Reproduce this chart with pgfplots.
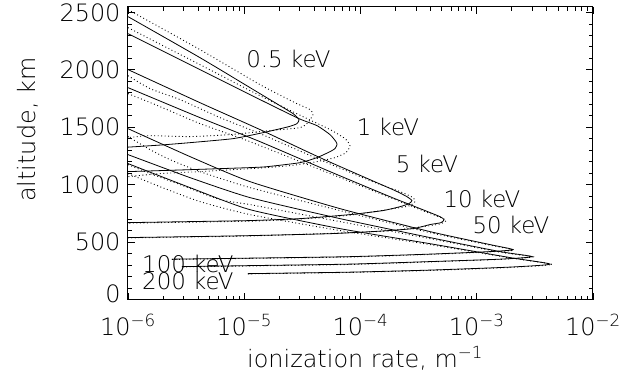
\documentclass[border=0pt]{standalone}
\usepackage{fontspec}
\setmainfont{DejaVu Sans}[UprightFont={* ExtraLight}]
\usepackage{pgfplots}
\pgfplotsset{compat=1.18}
\begin{document}
\begin{tikzpicture}
\begin{axis}[
  scale only axis, width=465bp, height=293bp,
  xmode=log, xmin=1e-6, xmax=1e-2, ymin=0, ymax=2550,
  xtick={1e-6,1e-5,1e-4,1e-3,1e-2},
  xticklabels={10\textsuperscript{−6},10\textsuperscript{−5},10\textsuperscript{−4},10\textsuperscript{−3},10\textsuperscript{−2}},
  ytick={0,500,1000,1500,2000,2500},
  yticklabels={\raisebox{12bp}{0},500,1000,1500,2000,2500},
  minor y tick num=4,
  tick align=inside,
  major tick length=7bp, minor tick length=4bp,
  axis line style={line width=1bp},
  every tick/.style={black, line width=0.7bp},
  tick label style={font=\fontsize{24}{28}\selectfont},
  xticklabel style={yshift=-11bp},
  yticklabel style={xshift=-4bp},
  /pgf/number format/assume math mode=true,
  /pgf/number format/1000 sep={},
  xlabel={ionization rate, m\textsuperscript{−1}},
  ylabel={altitude, km},
  label style={font=\fontsize{24}{28}\selectfont},
  xlabel style={at={(axis description cs:0.51,-0.2)}, anchor=center},
  ylabel style={at={(axis description cs:-0.215,0.58)}, anchor=center},
  solidc/.style={black, line width=0.8bp, smooth, tension=0.35},
  dotc/.style={black, line width=0.9bp, dash pattern=on 0.9bp off 2.6bp, smooth, tension=0.35},
]
% ---- solid curves ----
\addplot[solidc] coordinates {(1e-6,2463) (4.16e-6,2106) (1.237e-5,1819) (2.03e-5,1688) (2.63e-5,1619) (2.96e-5,1567) (2.84e-5,1532) (2.43e-5,1506) (1.45e-5,1453) (8.0e-6,1401) (3.41e-6,1366) (1.885e-6,1345) (1e-6,1327)};
\addplot[solidc] coordinates {(1e-6,2315) (4.16e-6,2002) (1.366e-5,1741) (2.96e-5,1575) (4.23e-5,1514) (5.47e-5,1436) (6.15e-5,1375) (6.28e-5,1349) (6.03e-5,1314) (5.47e-5,1288) (4.23e-5,1236) (3.02e-5,1192) (1.57e-5,1157) (1.12e-5,1149) (3.41e-6,1131) (1e-6,1114)};
\addplot[solidc] coordinates {(1e-6,2002) (4.16e-6,1714) (1.366e-5,1480) (4.48e-5,1236) (1.207e-4,1044) (1.98e-4,949) (2.51e-4,896) (2.77e-4,862) (2.61e-4,835) (2.19e-4,809) (1.562e-4,775) (8.12e-5,740) (3.02e-5,705) (1.12e-5,688) (3.41e-6,679) (1e-6,670)};
\addplot[solidc] coordinates {(1e-6,1845) (4.16e-6,1584) (1.366e-5,1375) (5.47e-5,1114) (1.794e-4,896) (3.59e-4,775) (4.83e-4,722) (5.23e-4,696) (4.93e-4,670) (3.96e-4,653) (2.83e-4,618) (1.472e-4,596) (5.47e-5,574) (1.12e-5,557) (3.41e-6,548) (1e-6,540)};
\addplot[solidc] coordinates {(1e-6,1488) (3.41e-6,1245) (1.12e-5,1027) (6.66e-5,792) (3.96e-4,592) (1.30e-3,479) (2.05e-3,435) (1.30e-3,418) (3.96e-4,396) (8.12e-5,374) (1.12e-5,361) (2.39e-6,352)};
\addplot[solidc] coordinates {(1e-6,1262) (3.41e-6,1062) (1.12e-5,888) (6.66e-5,705) (3.96e-4,540) (1.585e-3,418) (2.99e-3,374) (1.585e-3,352) (3.96e-4,331) (8.12e-5,309) (1.12e-5,296) (2.91e-6,287)};
\addplot[solidc] coordinates {(1e-6,1184) (3.41e-6,975) (1.12e-5,783) (6.66e-5,618) (3.96e-4,487) (1.93e-3,366) (4.27e-3,309) (1.93e-3,283) (3.96e-4,257) (8.12e-5,239) (1.077e-5,226)};
% ---- dotted curves ----
\addplot[dotc] coordinates {(1e-6,2524) (4.16e-6,2176) (1.366e-5,1871) (2.73e-5,1714) (3.68e-5,1654) (3.90e-5,1610) (3.53e-5,1540) (3.02e-5,1497) (1.665e-5,1471) (7.54e-6,1436) (3.41e-6,1419) (1.55e-6,1427) (1e-6,1410)};
\addplot[dotc] coordinates {(1e-6,2367) (4.16e-6,2045) (1.366e-5,1775) (3.33e-5,1584) (5.47e-5,1480) (7.36e-5,1401) (8.12e-5,1340) (7.5e-5,1279) (6.03e-5,1236) (4.23e-5,1201) (2.475e-5,1166) (1.12e-5,1140) (4.16e-6,1114) (1.885e-6,1097) (1e-6,1070)};
\addplot[dotc] coordinates {(1e-6,1949) (1.55e-6,1836) (2.8e-6,1741) (6.19e-6,1584) (1.366e-5,1445) (4.48e-5,1218) (1.207e-4,1036) (2.19e-4,940) (2.83e-4,888) (2.94e-4,853) (2.67e-4,818) (2.19e-4,801) (8.12e-5,735) (3.02e-5,701) (1.12e-5,683) (1e-6,666)};
\addplot[dotc] coordinates {(1e-6,1793) (1.885e-6,1680) (4.16e-6,1532) (1.12e-5,1375) (5.47e-5,1097) (1.794e-4,888) (3.59e-4,766) (4.93e-4,714) (5.44e-4,688) (4.93e-4,661) (3.96e-4,644) (1.472e-4,594) (1.12e-5,554) (1e-6,537)};
\addplot[dotc] coordinates {(1e-6,1419) (1.55e-6,1305) (2.30e-6,1218) (4.16e-6,1114) (1.12e-5,975) (6.66e-5,775) (3.96e-4,583) (1.30e-3,474) (2.09e-3,431) (1.30e-3,415) (3.96e-4,393) (8.12e-5,371) (1.12e-5,359) (2.39e-6,350)};
\addplot[dotc] coordinates {(1e-6,1175) (1.55e-6,1097) (2.8e-6,1001) (6.19e-6,870) (1.12e-5,827) (6.66e-5,679) (3.96e-4,531) (1.585e-3,413) (3.05e-3,372) (1.585e-3,350) (3.96e-4,328) (8.12e-5,306) (1.12e-5,293) (2.91e-6,285)};
\addplot[dotc] coordinates {(1e-6,1097) (1.885e-6,983) (4.16e-6,853) (1.12e-5,740) (6.66e-5,601) (3.96e-4,479) (1.93e-3,363) (4.44e-3,306) (1.93e-3,280) (3.96e-4,254) (8.12e-5,237) (1.077e-5,224)};
% ---- labels ----
\node[font=\fontsize{23}{26}\selectfont] at (axis cs:2.4e-5,2097) {0.5 keV};
\node[font=\fontsize{23}{26}\selectfont] at (axis cs:1.724e-4,1506) {1 keV};
\node[font=\fontsize{23}{26}\selectfont] at (axis cs:3.73e-4,1184) {5 keV};
\node[font=\fontsize{23}{26}\selectfont] at (axis cs:1.109e-3,879) {10 keV};
\node[font=\fontsize{23}{26}\selectfont] at (axis cs:1.97e-3,653) {50 keV};
\node[font=\fontsize{23}{26}\selectfont] at (axis cs:3.28e-6,313) {100 keV};
\node[font=\fontsize{23}{26}\selectfont] at (axis cs:3.28e-6,165) {200 keV};
\end{axis}
\path ([xshift=-128bp,yshift=-82bp]current axis.south west) rectangle ([xshift=49bp,yshift=5bp]current axis.north east);
\end{tikzpicture}
\end{document}
